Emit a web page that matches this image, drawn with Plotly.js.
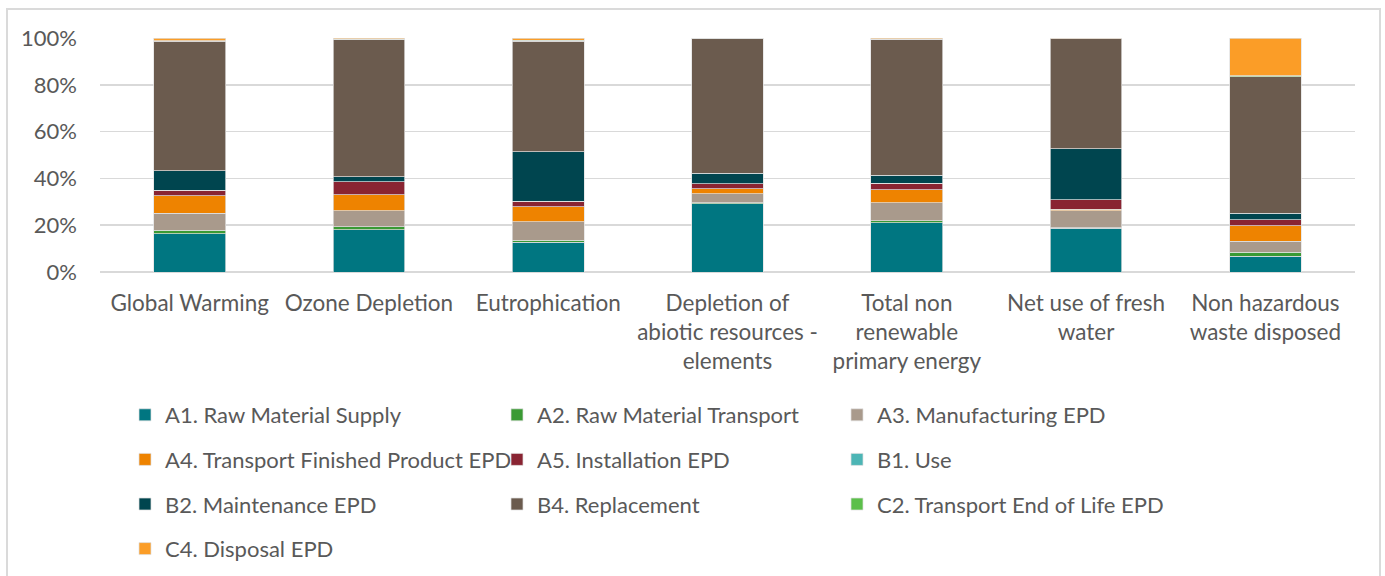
<!DOCTYPE html>
<html>
<head>
<meta charset="utf-8">
<script src="https://cdn.plot.ly/plotly-3.0.1.min.js"></script>
<style>
html,body{margin:0;padding:0;background:#fff;overflow:hidden;width:1385px;height:576px;}
#frame{position:absolute;left:6px;top:8px;width:1375px;height:600px;border:2px solid #dadada;box-sizing:border-box;}
#chart{position:absolute;left:0;top:0;width:1385px;height:576px;}
</style>
</head>
<body>
<div id="frame"></div>
<div id="chart"></div>
<script>
const categories = [
  "Global Warming",
  "Ozone Depletion",
  "Eutrophication",
  "Depletion of<br>abiotic resources -<br>elements",
  "Total non<br>renewable<br>primary energy",
  "Net use of fresh<br>water",
  "Non hazardous<br>waste disposed"
];

const seriesNames = [
  "A1. Raw Material Supply",
  "A2. Raw Material Transport",
  "A3. Manufacturing EPD",
  "A4. Transport Finished Product EPD",
  "A5. Installation EPD",
  "B1. Use",
  "B2. Maintenance EPD",
  "B4. Replacement",
  "C2. Transport End of Life EPD",
  "C4. Disposal EPD"
];

const A1 = [16.4, 18.1, 12.8, 29.1, 21.1, 18.8, 6.8];
const A2 = [1.4, 1.3, 0.7, 0.4, 0.7, 0.1, 1.7];
const A3 = [7.4, 6.8, 8.0, 4.0, 7.8, 7.3, 4.6];
const A4 = [7.3, 6.8, 6.3, 2.1, 5.6, 0.7, 6.7];
const A5 = [2.5, 5.6, 2.5, 2.1, 2.8, 4.0, 2.6];
const B1 = [0, 0, 0, 0, 0, 0, 0];
const B2 = [8.2, 2.1, 21.0, 4.6, 3.3, 21.7, 2.8];
const B4 = [55.4, 58.6, 47.3, 57.3, 58.1, 47.0, 58.3];
const C2 = [0.2, 0.1, 0.4, 0.2, 0.1, 0.1, 0.3];
const C4 = [1.2, 0.6, 1.0, 0.2, 0.5, 0.3, 16.2];

const yTickValues = [0, 20, 40, 60, 80, 100];
const yTickLabels = ["0%", "20%", "40%", "60%", "80%", "100%"];

const seriesValues = [A1, A2, A3, A4, A5, B1, B2, B4, C2, C4];
const colors = ["#007681", "#3a9a34", "#a99a8c", "#ee8300", "#892432", "#4cb5b5", "#00454f", "#6b5b4e", "#5cbf4a", "#fb9d27"];
// legend column assignment (Excel fills row-wise in 3 columns)
const legendIds = ["legend", "legend2", "legend3", "legend", "legend2", "legend3", "legend", "legend2", "legend3", "legend"];

const traces = seriesNames.map((name, i) => ({
  type: "bar",
  name: name,
  x: categories,
  y: seriesValues[i],
  marker: {color: colors[i], line: {color: "rgba(225,225,225,0.9)", width: 0.8}},
  legend: legendIds[i],
  legendgroup: "g" + i,
  hoverinfo: "name+y"
}));

const font = {family: "Lato, 'Open Sans', sans-serif", size: 22, color: "#595959"};
const xFont = {family: "Lato, 'Open Sans', sans-serif", size: 22.5, color: "#595959"};
const legendCommon = {
  orientation: "v",
  xref: "container", yref: "container",
  xanchor: "left", yanchor: "top",
  y: 1 - 394/576,
  bgcolor: "rgba(0,0,0,0)",
  font: font,
  tracegroupgap: 13,
  traceorder: "grouped",
  itemclick: false
};

const layout = {
  width: 1385, height: 576,
  autosize: false,
  margin: {l: 100, r: 30, t: 38, b: 304, pad: 0, autoexpand: false},
  paper_bgcolor: "rgba(0,0,0,0)",
  plot_bgcolor: "rgba(0,0,0,0)",
  font: font,
  barmode: "stack",
  bargap: 0.6,
  showlegend: true,
  xaxis: {
    type: "category",
    showgrid: false,
    zeroline: false,
    showline: false,
    ticks: "",
    tickfont: xFont,
    tickangle: 0,
    ticklabelstandoff: 15,
    automargin: false
  },
  yaxis: {
    range: [0, 100],
    tickvals: yTickValues,
    ticktext: yTickLabels,
    showgrid: true,
    gridcolor: "#d9d9d9",
    gridwidth: 1.5,
    zeroline: true,
    zerolinecolor: "#d9d9d9",
    zerolinewidth: 1.5,
    showline: false,
    ticks: "",
    tickfont: font,
    ticklabelstandoff: 22,
    automargin: false
  },
  legend: Object.assign({}, legendCommon, {x: 125/1385}),
  legend2: Object.assign({}, legendCommon, {x: 497/1385}),
  legend3: Object.assign({}, legendCommon, {x: 837/1385})
};

Plotly.newPlot("chart", traces, layout, {displayModeBar: false, staticPlot: true});
</script>
</body>
</html>
